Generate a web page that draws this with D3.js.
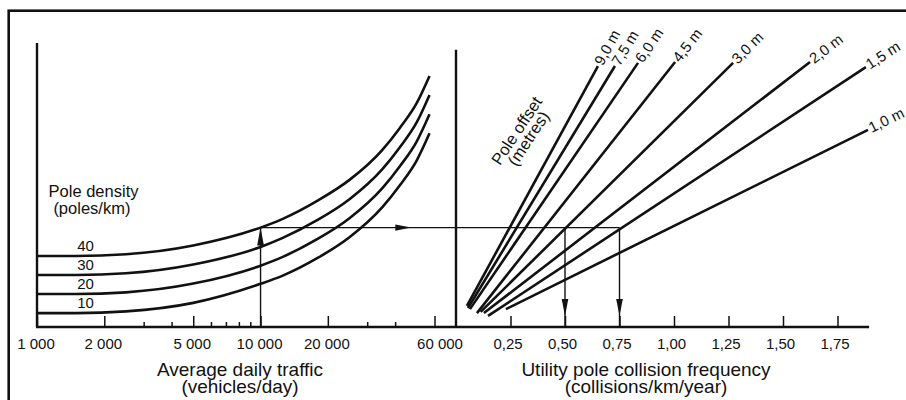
<!DOCTYPE html>
<html>
<head>
<meta charset="utf-8">
<script src="https://cdn.jsdelivr.net/npm/d3@7/dist/d3.min.js"></script>
<style>
  html, body { margin: 0; padding: 0; background: #fff; }
  svg { display: block; }
  text { font-family: "Liberation Sans", Arial, Helvetica, sans-serif; fill: #111; }
</style>
</head>
<body>
<svg id="chart" width="906" height="400"></svg>
<script>
// ---- Left panel: average daily traffic vs. pole density (index scale on y) ----
const adtPoints = [1000, 1500, 2500, 5000, 10000, 12500, 18000, 25000, 35000, 42000, 50000, 57000];
const densityLabels = ["40", "30", "20", "10"];
const density40 = [25.0, 25.0, 25.6, 28.7, 35.0, 38.0, 44.5, 51.8, 62.3, 70.1, 78.9, 88.4];
const density30 = [18.3, 18.3, 18.9, 22.0, 28.2, 31.3, 37.7, 45.0, 55.5, 63.3, 72.1, 81.7];
const density20 = [11.6, 11.6, 12.2, 15.3, 21.6, 24.6, 31.0, 38.3, 48.8, 56.6, 65.4, 74.9];
const density10 = [4.9, 4.9, 5.5, 8.5, 15.2, 18.0, 24.3, 31.6, 42.1, 49.9, 58.7, 68.2];

const adtMajorTicks = [1000, 2000, 5000, 10000, 20000, 60000];
const adtTickLabels = ["1 000", "2 000", "5 000", "10 000", "20 000", "60 000"];
const adtMinorTicks = [3000, 4000, 6000, 7000, 8000, 9000, 30000, 40000];

// ---- Right panel: collision frequency by pole offset ----
const offsetLabels = ["9,0 m", "7,5 m", "6,0 m", "4,5 m", "3,0 m", "2,0 m", "1,5 m", "1,0 m"];
const offsetStartFreq = [0.050, 0.055, 0.064, 0.096, 0.113, 0.128, 0.147, 0.229];
const offsetStartIdx  = [7.4, 6.7, 6.3, 4.9, 5.3, 4.9, 3.9, 6.3];
const offsetEndFreq   = [0.651, 0.729, 0.835, 1.005, 1.271, 1.624, 1.880, 1.890];
const offsetEndIdx    = [91.9, 91.9, 93.0, 93.3, 93.0, 93.3, 91.5, 69.4];

const freqTicks = [0.25, 0.50, 0.75, 1.00, 1.25, 1.50, 1.75];
const freqTickLabels = ["0,25", "0,50", "0,75", "1,00", "1,25", "1,50", "1,75"];

// Worked example: 10 000 veh/day, 40 poles/km -> 0,50 and 0,75 collisions/km/year
const exampleADT = 10000;
const exampleDensity = "40";
const exampleFreqs = [0.50, 0.75];

// ---- Scales ----
const svg = d3.select("#chart");
const xL = d3.scaleLog().domain([1000, 60000]).range([37, 434.5]);
const xR = d3.scaleLinear().domain([0, 1.75]).range([456, 837.5]);
const y = d3.scaleLinear().domain([0, 100]).range([327, 43]);
const freqAxisEnd = 1.895;
const rightAxisTop = 97.6;

const ink = "#111";

// Frame
svg.append("rect")
  .attr("x", 8.7).attr("y", 10.7)
  .attr("width", 1000).attr("height", 1000)
  .attr("fill", "none").attr("stroke", ink).attr("stroke-width", 2.6);

// Axis lines
svg.append("line")
  .attr("x1", xL(1000)).attr("x2", xL(1000))
  .attr("y1", y(0)).attr("y2", y(100))
  .attr("stroke", ink).attr("stroke-width", 2.4);
svg.append("line")
  .attr("x1", xR(0)).attr("x2", xR(0))
  .attr("y1", y(0)).attr("y2", y(rightAxisTop))
  .attr("stroke", ink).attr("stroke-width", 2.4);
svg.append("line")
  .attr("x1", xL(1000) - 1).attr("x2", xR(freqAxisEnd))
  .attr("y1", y(0)).attr("y2", y(0))
  .attr("stroke", ink).attr("stroke-width", 2.4);

// Bottom axes (ticks pointing inward, labels below)
function styleAxis(g) {
  g.select(".domain").remove();
  g.selectAll(".tick line").attr("stroke", ink).attr("stroke-width", 1.5);
  g.selectAll(".tick text")
    .attr("fill", ink)
    .style("font-size", "15px")
    .style("font-family", "'Liberation Sans', Arial, sans-serif");
}

svg.append("g")
  .attr("transform", `translate(0,${y(0)})`)
  .call(d3.axisBottom(xL).tickValues(adtMinorTicks).tickSize(-5).tickFormat(""))
  .call(styleAxis);

svg.append("g")
  .attr("transform", `translate(0,${y(0)})`)
  .call(d3.axisBottom(xL).tickValues(adtMajorTicks).tickSize(-11).tickPadding(11)
    .tickFormat((d, i) => adtTickLabels[i]))
  .call(styleAxis)
  .call(g => g.selectAll(".tick text").attr("dx", (d) => d === 60000 ? 5 : -1.5));

svg.append("g")
  .attr("transform", `translate(0,${y(0)})`)
  .call(d3.axisBottom(xR).tickValues(freqTicks).tickSize(-11).tickPadding(11)
    .tickFormat((d, i) => freqTickLabels[i]))
  .call(styleAxis)
  .call(g => g.selectAll(".tick text").attr("dx", -3));

// Density curves
const densitySeries = [density40, density30, density20, density10];
const curveLine = d3.line()
  .x(d => xL(d[0]))
  .y(d => y(d[1]))
  .curve(d3.curveMonotoneX);

densitySeries.forEach((vals, i) => {
  const pts = adtPoints.map((a, j) => [a, vals[j]]);
  svg.append("path")
    .attr("d", curveLine(pts))
    .attr("fill", "none").attr("stroke", ink).attr("stroke-width", 2.6);
  svg.append("text")
    .attr("x", xL(1650)).attr("y", y(vals[0]) - 5.5)
    .attr("text-anchor", "middle")
    .style("font-size", "15px")
    .text(densityLabels[i]);
});

// Pole density heading
const pdTitle = svg.append("text")
  .attr("text-anchor", "middle")
  .style("font-size", "16.5px");
pdTitle.append("tspan").attr("x", xL(1790)).attr("y", 197).text("Pole density");
pdTitle.append("tspan").attr("x", xL(1760)).attr("y", 214).text("(poles/km)");

// Pole offset lines
offsetLabels.forEach((lab, i) => {
  const x1 = xR(offsetStartFreq[i]), y1 = y(offsetStartIdx[i]);
  const x2 = xR(offsetEndFreq[i]), y2 = y(offsetEndIdx[i]);
  svg.append("line")
    .attr("x1", x1).attr("y1", y1).attr("x2", x2).attr("y2", y2)
    .attr("stroke", ink).attr("stroke-width", 2.6).attr("stroke-linecap", "butt");
  const ang = Math.atan2(y2 - y1, x2 - x1);
  const deg = ang * 180 / Math.PI;
  const tx = x2 + Math.cos(ang) * 2;
  const ty = y2 + Math.sin(ang) * 2;
  svg.append("text")
    .attr("transform", `translate(${tx},${ty}) rotate(${deg})`)
    .attr("dy", "0.3em")
    .style("font-size", "15px")
    .text(lab);
});

// Pole offset heading (rotated)
const poTitle = svg.append("text")
  .attr("transform", `translate(${xR(0.30)},${y(68)}) rotate(-56.5)`)
  .attr("text-anchor", "middle")
  .style("font-size", "16.5px");
poTitle.append("tspan").attr("x", 0).attr("y", 0).text("Pole offset");
poTitle.append("tspan").attr("x", 0).attr("y", 14).text("(metres)");

// Worked example with arrows
const exIdx = densitySeries[densityLabels.indexOf(exampleDensity)][adtPoints.indexOf(exampleADT)];
const exX = xL(exampleADT);
const exY = y(exIdx);
const thin = 1.4;

function arrowHead(tipX, tipY, dir, len, hw) {
  // dir: "up" | "down" | "right"
  let p;
  if (dir === "up") p = [[tipX, tipY], [tipX - hw, tipY + len], [tipX + hw, tipY + len]];
  else if (dir === "down") p = [[tipX, tipY], [tipX - hw, tipY - len], [tipX + hw, tipY - len]];
  else p = [[tipX, tipY], [tipX - len, tipY - hw], [tipX - len, tipY + hw]];
  svg.append("path").attr("d", "M" + p.join("L") + "Z").attr("fill", ink);
}

svg.append("line")
  .attr("x1", exX).attr("x2", exX).attr("y1", y(0)).attr("y2", exY)
  .attr("stroke", ink).attr("stroke-width", thin);
arrowHead(exX, exY, "up", 18, 3.4);

const exEnd = xR(d3.max(exampleFreqs));
svg.append("line")
  .attr("x1", exX).attr("x2", exEnd).attr("y1", exY).attr("y2", exY)
  .attr("stroke", ink).attr("stroke-width", thin);
arrowHead(exX + 0.42 * (exEnd - exX), exY, "right", 16, 3.2);

exampleFreqs.forEach(f => {
  svg.append("line")
    .attr("x1", xR(f)).attr("x2", xR(f)).attr("y1", exY).attr("y2", y(0))
    .attr("stroke", ink).attr("stroke-width", thin);
  arrowHead(xR(f), y(0) - 11, "down", 17, 3.3);
});

// Axis titles
function title(x, lines) {
  const t = svg.append("text")
    .attr("text-anchor", "middle")
    .style("font-size", "19px");
  lines.forEach((s, i) => {
    t.append("tspan").attr("x", x).attr("y", 376 + i * 16.5).text(s);
  });
}
title(240, ["Average daily traffic", "(vehicles/day)"]);
title(646, ["Utility pole collision frequency", "(collisions/km/year)"]);
</script>
</body>
</html>
